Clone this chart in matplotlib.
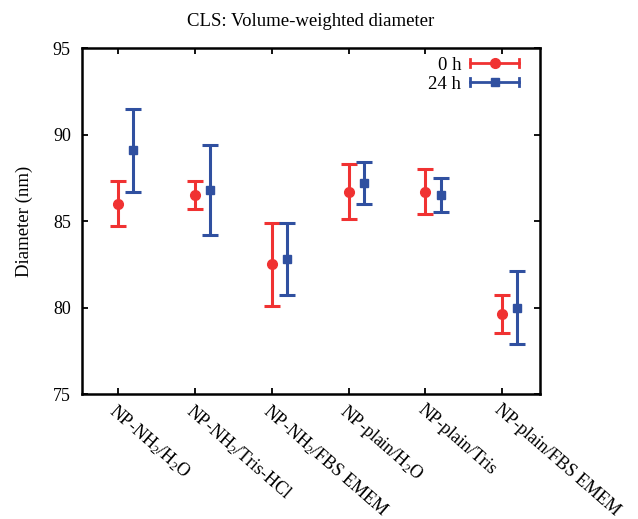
import matplotlib
matplotlib.use('Agg')
import matplotlib.pyplot as plt
from matplotlib.lines import Line2D
from matplotlib.legend_handler import HandlerBase
import numpy as np

plt.rcParams['font.family'] = ['Liberation Serif', 'DejaVu Serif']
plt.rcParams['mathtext.fontset'] = 'custom'
plt.rcParams['mathtext.rm'] = 'Liberation Serif'
plt.rcParams['mathtext.it'] = 'Liberation Serif:italic'

# data
samples = ['NP-NH$_2$/H$_2$O', 'NP-NH$_2$/Tris-HCl', 'NP-NH$_2$/FBS EMEM',
           'NP-plain/H$_2$O', 'NP-plain/Tris', 'NP-plain/FBS EMEM']
d0 = [86.0, 86.5, 82.5, 86.7, 86.7, 79.6]
d0_err = [1.3, 0.8, 2.4, 1.6, 1.3, 1.1]
d24 = [89.1, 86.8, 82.8, 87.2, 86.5, 80.0]
d24_err = [2.4, 2.6, 2.1, 1.2, 1.0, 2.1]

red = '#f03232'
blue = '#3050a0'


# gnuplot-like legend sample: horizontal bar with caps and marker in middle
class HandlerXErr(HandlerBase):
    def create_artists(self, legend, orig_handle, xdescent, ydescent,
                       width, height, fontsize, trans):
        y = height / 2 - ydescent
        x0, x1 = -xdescent, width - xdescent
        c = orig_handle.get_color()
        lw = orig_handle.get_linewidth()
        bar = Line2D([x0, x1], [y, y], color=c, lw=lw, transform=trans)
        cap0 = Line2D([x0, x0], [y - 3, y + 3], color=c, lw=lw, transform=trans)
        cap1 = Line2D([x1, x1], [y - 3, y + 3], color=c, lw=lw, transform=trans)
        mk = Line2D([(x0 + x1) / 2], [y], color=c, marker=orig_handle.get_marker(),
                    markersize=orig_handle.get_markersize(), ls='none', transform=trans)
        return [bar, cap0, cap1, mk]


fig = plt.figure(figsize=(6.38, 5.19), dpi=100)
ax = fig.add_axes([0.1285, 0.2408, 0.7175, 0.6667])

x = np.arange(1, len(samples) + 1)
ax.errorbar(x, d0, yerr=d0_err, fmt='o', color=red, ms=7, elinewidth=2.2,
            capsize=6, capthick=2.2)
ax.errorbar(x + 0.2, d24, yerr=d24_err, fmt='s', color=blue, ms=5.5, elinewidth=2.2,
            capsize=6, capthick=2.2)

ax.set_xlim(0.53, 6.49)
ax.set_ylim(75, 95)
ax.set_yticks([75, 80, 85, 90, 95])
ax.set_xticks(x)
ax.set_xticklabels(samples, rotation=-41, ha='left', rotation_mode='anchor', fontsize=13)
ax.tick_params(axis='y', labelsize=13, pad=8)
ax.tick_params(axis='x', pad=5)
ax.tick_params(direction='in', top=True, right=True, length=4, width=1.3)
for s in ax.spines.values():
    s.set_linewidth(1.8)

ax.set_ylabel('Diameter (nm)', fontsize=13.5, labelpad=14)
ax.set_title('CLS: Volume-weighted diameter', fontsize=13.5, pad=16)

h0 = Line2D([], [], color=red, marker='o', ms=7, lw=2)
h24 = Line2D([], [], color=blue, marker='s', ms=5.5, lw=2)
ax.legend([h0, h24], ['0 h', '24 h'], handler_map={Line2D: HandlerXErr()},
          loc='upper right', bbox_to_anchor=(0.955, 0.975), frameon=False,
          markerfirst=False, fontsize=13.5, handlelength=2.6, labelspacing=0.1,
          borderaxespad=0, borderpad=0, handletextpad=0.5)

fig.savefig('out.png', dpi=100)
